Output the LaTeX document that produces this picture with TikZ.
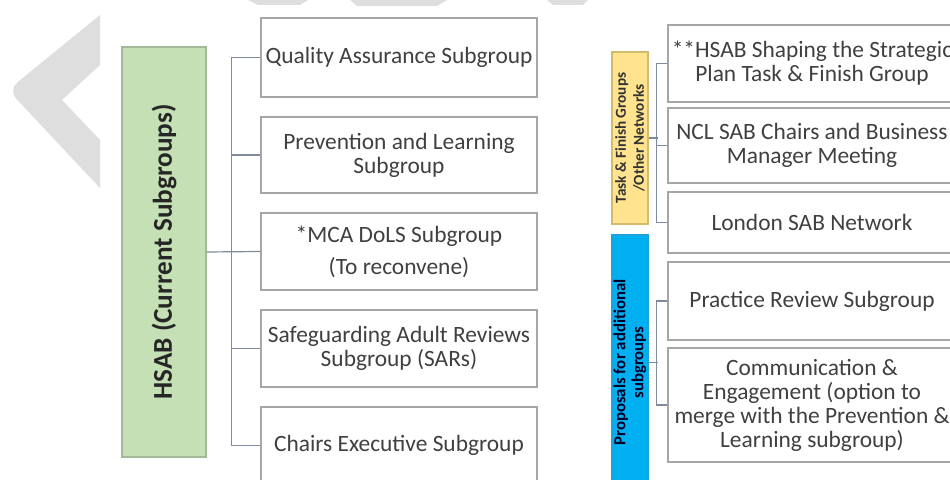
\documentclass[tikz,border=0pt]{standalone}
\usepackage{fontspec}
\setmainfont{Carlito}
\definecolor{wmgray}{HTML}{DEDEDE}
\definecolor{boxgray}{HTML}{A6A6A6}
\definecolor{textgray}{HTML}{404040}
\definecolor{conngray}{HTML}{7F8A9C}
\definecolor{gfill}{HTML}{C5E0B4}
\definecolor{gdraw}{HTML}{A3BA98}
\definecolor{yfill}{HTML}{FFE38F}
\definecolor{ydraw}{HTML}{D2BA6E}
\definecolor{bfill}{HTML}{00B0F0}
\definecolor{bdraw}{HTML}{1AA3DA}
\begin{document}
\begin{tikzpicture}[x=0.5pt,y=-0.5pt,
  wm/.style={fill=wmgray},
  sub/.style={draw=boxgray, line width=0.7pt, fill=white, inner sep=0pt, align=center,
    text=textgray, font=\fontsize{11.7}{12}\selectfont},
  gbox/.style={draw=gdraw, line width=0.8pt, fill=gfill, inner sep=0pt, align=center,
    text=black!85, font=\fontsize{13.6}{14}\selectfont\bfseries},
  ybox/.style={draw=ydraw, line width=0.6pt, fill=yfill, inner sep=0pt, align=center,
    text=black!80, font=\fontsize{7.6}{9}\selectfont\bfseries},
  bbox/.style={draw=bdraw, line width=0.6pt, fill=bfill, inner sep=0pt, align=center,
    text=black!85!blue, font=\fontsize{8.4}{9}\selectfont\bfseries},
  conn/.style={draw=conngray, line width=0.6pt},
]
\useasboundingbox (0,0) rectangle (950,480);
\fill[white] (0,0) rectangle (950,480);
% watermark
\fill[wm] (100,15) [rounded corners=6pt] -- (8,90) [sharp corners] -- (100,188) -- (100,140) -- (62,100) -- (100,65) -- cycle;
\fill[wm] (248,0) -- (308,0) -- (300,5) -- (258,5) -- cycle;
\fill[wm] (350,0) -- (447,0) -- (437,6) -- (357,6) -- cycle;
\fill[wm] (547,0) -- (588,0) -- (583,5) -- (553,5) -- cycle;

% left column
\node[gbox, rotate=90, minimum width=205pt, minimum height=42pt] (hsab) at (164,252) {HSAB (Current Subgroups)};
\node[sub, minimum width=138pt, minimum height=39.5pt] (q1) at (399,57.5) {Quality Assurance Subgroup};
\node[sub, minimum width=138pt, minimum height=38pt] (q2) at (399,155) {Prevention and Learning\\Subgroup};
\node[sub, minimum width=138pt, minimum height=38.5pt] (q3) at (399,251.5) {*MCA DoLS Subgroup\\[4pt](To reconvene)};
\node[sub, minimum width=138pt, minimum height=38.5pt] (q4) at (399,348.5) {Safeguarding Adult Reviews\\Subgroup (SARs)};
\node[sub, minimum width=138pt, minimum height=38.5pt] (q5) at (399,445.5) {Chairs Executive Subgroup};

\draw[conn] (hsab.south) -- (q3.west);
\draw[conn] (q1.west) -- ++(-29,0) |- (q5.west);
\draw[conn] (q2.west) -- ++(-29,0);
\draw[conn] (q4.west) -- ++(-29,0);

% right column
\node[ybox, rotate=90, minimum width=86pt, minimum height=18pt] (tf) at (630,138) {Task \& Finish Groups\\/Other Networks};
\node[bbox, rotate=90, minimum width=127.5pt, minimum height=18pt] (prop) at (630,362.5) {Proposals for additional\\subgroups};

\node[sub, minimum width=144pt, minimum height=38.5pt] (ra) at (812,63.5) {**HSAB Shaping the Strategic\\Plan Task \& Finish Group};
\node[sub, minimum width=144pt, minimum height=37.5pt] (rb) at (812,145.5) {NCL SAB Chairs and Business\\Manager Meeting};
\node[sub, minimum width=144pt, minimum height=30.5pt] (rc) at (812,222.5) {London SAB Network};
\node[sub, minimum width=144pt, minimum height=39pt] (rd) at (812,301) {Practice Review Subgroup};
\node[sub, minimum width=144pt, minimum height=57pt] (re) at (812,405) {Communication \&\\Engagement (option to\\merge with the Prevention \&\\Learning subgroup)};

\draw[conn] (tf.south) -- ++(9,0);
\draw[conn] (ra.west) -- ++(-11,0) |- (rc.west);
\draw[conn] (rb.west) -- ++(-11,0);
\draw[conn] (prop.south) -- ++(9,0);
\draw[conn] (rd.west) -- ++(-11,0) |- (re.west);
\end{tikzpicture}
\end{document}
